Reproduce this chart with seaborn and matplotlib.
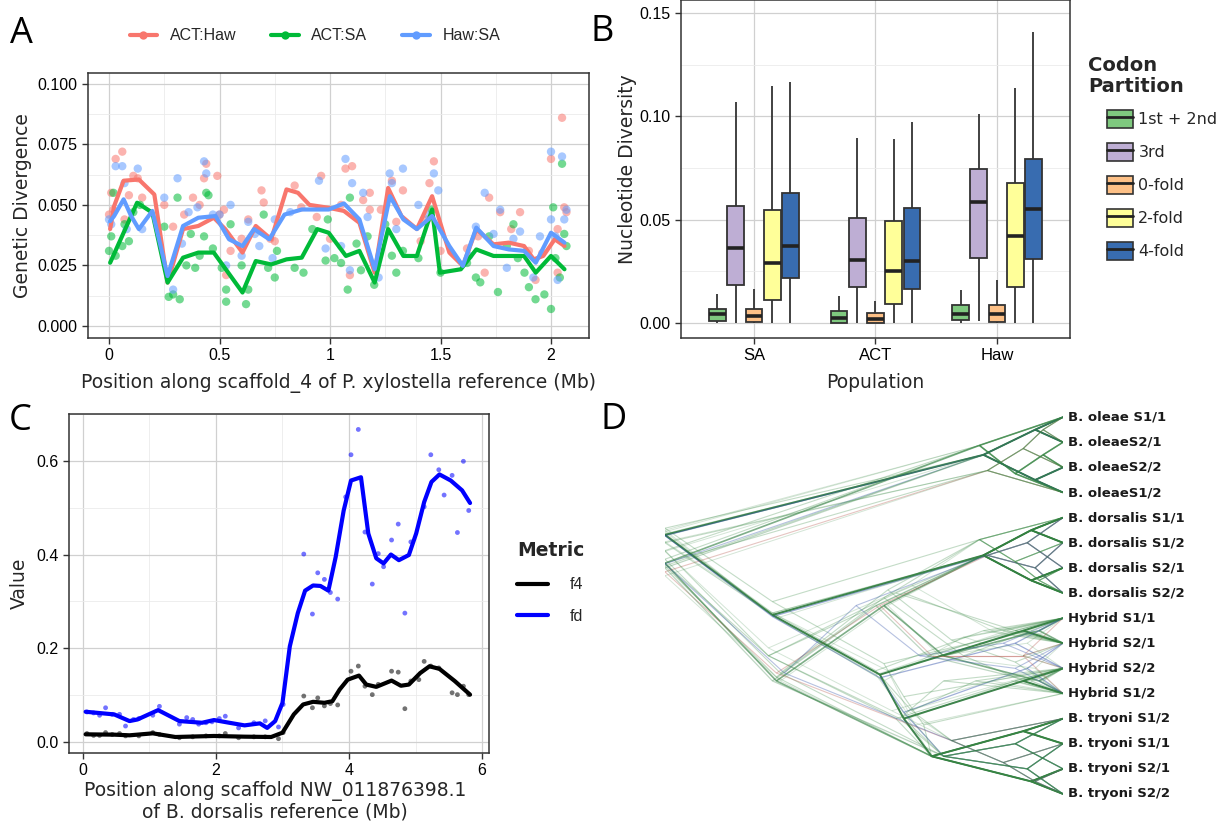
import numpy as np
import pandas as pd
import matplotlib.pyplot as plt
import seaborn as sns
from matplotlib.lines import Line2D
from matplotlib.patches import Patch
from matplotlib.legend_handler import HandlerTuple
from matplotlib.collections import LineCollection
from matplotlib.ticker import MultipleLocator

# ---------------- Panel A data: genetic divergence along scaffold_4 ----------------
pairs = ["ACT:Haw", "ACT:SA", "Haw:SA"]
pair_colors = {"ACT:Haw": "#F8766D", "ACT:SA": "#00BA38", "Haw:SA": "#619CFF"}

acthaw_pt_x = [0.00, 0.01, 0.02, 0.03, 0.06, 0.07, 0.09, 0.11, 0.13, 0.15, 0.25, 0.29, 0.34, 0.38,
               0.41, 0.43, 0.44, 0.49, 0.50, 0.52, 0.53, 0.55, 0.60, 0.63, 0.69, 0.70, 0.73, 0.75,
               0.84, 0.87, 0.94, 0.96, 1.00, 1.05, 1.07, 1.09, 1.10, 1.15, 1.18, 1.18, 1.23, 1.27,
               1.28, 1.30, 1.33, 1.41, 1.44, 1.45, 1.47, 1.50, 1.62, 1.67, 1.70, 1.72, 1.77, 1.82,
               1.86, 1.90, 1.93, 1.96, 2.00, 2.03, 2.03, 2.05, 2.06, 2.07]
acthaw_pt_y = [0.046, 0.055, 0.048, 0.069, 0.072, 0.044, 0.054, 0.062, 0.061, 0.053, 0.050, 0.041, 0.046, 0.053,
               0.050, 0.061, 0.067, 0.062, 0.046, 0.048, 0.021, 0.031, 0.036, 0.044, 0.056, 0.051, 0.036, 0.035,
               0.058, 0.049, 0.045, 0.062, 0.036, 0.050, 0.065, 0.021, 0.066, 0.052, 0.048, 0.055, 0.048, 0.053,
               0.060, 0.043, 0.056, 0.035, 0.044, 0.059, 0.068, 0.031, 0.032, 0.037, 0.022, 0.053, 0.047, 0.040,
               0.047, 0.031, 0.019, 0.030, 0.069, 0.022, 0.040, 0.086, 0.049, 0.047]

actsa_pt_x = [0.00, 0.01, 0.02, 0.03, 0.06, 0.07, 0.09, 0.11, 0.14, 0.25, 0.27, 0.29, 0.31, 0.32,
              0.35, 0.37, 0.39, 0.41, 0.43, 0.44, 0.45, 0.47, 0.51, 0.53, 0.53, 0.55, 0.60, 0.62,
              0.63, 0.70, 0.72, 0.75, 0.76, 0.84, 0.88, 0.92, 0.98, 0.99, 1.02, 1.05, 1.08, 1.09,
              1.12, 1.14, 1.17, 1.20, 1.25, 1.28, 1.30, 1.33, 1.40, 1.46, 1.50, 1.62, 1.66, 1.68,
              1.72, 1.76, 1.80, 1.83, 1.85, 1.88, 1.90, 1.93, 1.97, 2.00, 2.01, 2.02, 2.04, 2.05,
              2.06, 2.07]
actsa_pt_y = [0.031, 0.037, 0.055, 0.029, 0.033, 0.042, 0.035, 0.047, 0.050, 0.041, 0.012, 0.013, 0.053, 0.011,
              0.025, 0.038, 0.024, 0.029, 0.037, 0.055, 0.054, 0.032, 0.024, 0.015, 0.010, 0.042, 0.025, 0.009,
              0.015, 0.046, 0.024, 0.020, 0.031, 0.024, 0.022, 0.040, 0.027, 0.044, 0.028, 0.026, 0.015, 0.053,
              0.034, 0.023, 0.037, 0.017, 0.042, 0.029, 0.022, 0.031, 0.028, 0.048, 0.022, 0.026, 0.020, 0.018,
              0.037, 0.014, 0.033, 0.042, 0.028, 0.022, 0.016, 0.011, 0.013, 0.007, 0.049, 0.028, 0.020, 0.067,
              0.038, 0.033]

hawsa_pt_x = [0.00, 0.01, 0.03, 0.06, 0.07, 0.08, 0.13, 0.15, 0.25, 0.29, 0.31, 0.33, 0.36, 0.40,
              0.43, 0.44, 0.47, 0.50, 0.53, 0.55, 0.60, 0.63, 0.66, 0.68, 0.74, 0.75, 0.82, 0.95,
              0.98, 1.05, 1.07, 1.09, 1.10, 1.15, 1.17, 1.22, 1.27, 1.28, 1.30, 1.33, 1.40, 1.44,
              1.47, 1.49, 1.63, 1.66, 1.70, 1.74, 1.77, 1.80, 1.83, 1.86, 1.92, 1.95, 2.00, 2.00,
              2.02, 2.03, 2.05, 2.06, 2.07]
hawsa_pt_y = [0.044, 0.042, 0.066, 0.066, 0.059, 0.040, 0.065, 0.040, 0.053, 0.015, 0.061, 0.034, 0.047, 0.049,
              0.068, 0.063, 0.046, 0.046, 0.025, 0.050, 0.029, 0.043, 0.038, 0.033, 0.028, 0.044, 0.047, 0.060,
              0.032, 0.033, 0.069, 0.023, 0.059, 0.055, 0.045, 0.020, 0.063, 0.059, 0.040, 0.065, 0.050, 0.046,
              0.063, 0.056, 0.029, 0.041, 0.055, 0.038, 0.048, 0.024, 0.036, 0.039, 0.020, 0.037, 0.072, 0.044,
              0.037, 0.019, 0.070, 0.044, 0.048]

acthaw_ln_x = [0.005, 0.023, 0.066, 0.135, 0.205, 0.265, 0.335, 0.404, 0.474, 0.526, 0.604, 0.664,
               0.734, 0.803, 0.855, 0.907, 0.994, 1.063, 1.133, 1.202, 1.263, 1.323, 1.393, 1.462,
               1.540, 1.601, 1.662, 1.740, 1.809, 1.878, 1.922, 1.965, 2.017, 2.061]
acthaw_ln_y = [0.0400, 0.0495, 0.0600, 0.0605, 0.0543, 0.0179, 0.0400, 0.0413, 0.0447, 0.0400, 0.0303, 0.0413,
               0.0358, 0.0564, 0.0550, 0.0500, 0.0488, 0.0475, 0.0426, 0.0220, 0.0570, 0.0454, 0.0400, 0.0536,
               0.0303, 0.0248, 0.0400, 0.0337, 0.0344, 0.0330, 0.0275, 0.0289, 0.0358, 0.0330]

actsa_ln_x = [0.005, 0.066, 0.127, 0.196, 0.265, 0.335, 0.404, 0.474, 0.604, 0.664, 0.734, 0.803,
              0.872, 0.942, 0.994, 1.072, 1.133, 1.202, 1.263, 1.332, 1.393, 1.462, 1.497, 1.592,
              1.662, 1.740, 1.809, 1.878, 1.931, 2.000, 2.061]
actsa_ln_y = [0.0261, 0.0385, 0.0509, 0.0468, 0.0179, 0.0282, 0.0303, 0.0303, 0.0138, 0.0268, 0.0254, 0.0275,
              0.0282, 0.0400, 0.0385, 0.0289, 0.0310, 0.0179, 0.0400, 0.0289, 0.0289, 0.0481, 0.0220, 0.0234,
              0.0316, 0.0289, 0.0289, 0.0289, 0.0220, 0.0289, 0.0234]

hawsa_ln_x = [0.005, 0.023, 0.066, 0.100, 0.135, 0.196, 0.265, 0.335, 0.404, 0.482, 0.543, 0.604,
              0.656, 0.725, 0.794, 0.872, 0.994, 1.063, 1.133, 1.202, 1.271, 1.332, 1.393, 1.462,
              1.540, 1.601, 1.662, 1.740, 1.809, 1.878, 1.931, 2.000, 2.061]
hawsa_ln_y = [0.0433, 0.0454, 0.0523, 0.0454, 0.0400, 0.0475, 0.0206, 0.0413, 0.0447, 0.0454, 0.0358, 0.0330,
              0.0400, 0.0358, 0.0460, 0.0481, 0.0481, 0.0506, 0.0440, 0.0234, 0.0536, 0.0440, 0.0400, 0.0454,
              0.0330, 0.0248, 0.0406, 0.0330, 0.0316, 0.0310, 0.0261, 0.0385, 0.0344]

# ---------------- Panel B data: nucleotide diversity box stats ----------------
populations = ["SA", "ACT", "Haw"]
partitions = ["1st + 2nd", "3rd", "0-fold", "2-fold", "4-fold"]
partition_colors = ["#7FC97F", "#BEAED4", "#FDC086", "#FFFF99", "#386CB0"]
# per population, per partition: [min, q1, median, q3, max]
box_SA = [[0.0, 0.0010, 0.0042, 0.0066, 0.0140],
          [0.0, 0.0182, 0.0365, 0.0565, 0.1067],
          [0.0, 0.0005, 0.0035, 0.0069, 0.0166],
          [0.0, 0.0113, 0.0289, 0.0546, 0.1146],
          [0.0, 0.0218, 0.0370, 0.0627, 0.1167]]
box_ACT = [[0.0, 0.0000, 0.0026, 0.0057, 0.0129],
           [0.0, 0.0173, 0.0304, 0.0509, 0.0896],
           [0.0, 0.0000, 0.0021, 0.0048, 0.0107],
           [0.0, 0.0092, 0.0249, 0.0492, 0.0888],
           [0.0, 0.0166, 0.0300, 0.0555, 0.0972]]
box_Haw = [[0.0, 0.0016, 0.0042, 0.0087, 0.0160],
           [0.0011, 0.0313, 0.0583, 0.0746, 0.1011],
           [0.0, 0.0003, 0.0042, 0.0089, 0.0207],
           [0.0, 0.0173, 0.0420, 0.0675, 0.1137],
           [0.0, 0.0308, 0.0551, 0.0793, 0.1408]]

# ---------------- Panel C data: f4 / fd along NW_011876398.1 ----------------
fd_pt_x = [0.06, 0.16, 0.25, 0.34, 0.44, 0.55, 0.64, 0.76, 0.84, 1.05, 1.15, 1.45, 1.56, 1.65, 1.74,
           1.85, 1.94, 2.05, 2.14, 2.34, 2.57, 2.74, 2.94, 3.01, 3.32, 3.45, 3.53, 3.63, 3.72, 3.83,
           3.95, 4.03, 4.14, 4.24, 4.35, 4.44, 4.52, 4.64, 4.74, 4.84, 4.93, 5.13, 5.23, 5.35, 5.43,
           5.55, 5.63, 5.72, 5.80]
fd_pt_y = [0.064, 0.062, 0.057, 0.073, 0.059, 0.059, 0.034, 0.048, 0.050, 0.057, 0.076, 0.038, 0.052, 0.048, 0.038,
           0.041, 0.043, 0.050, 0.055, 0.030, 0.041, 0.045, 0.032, 0.080, 0.401, 0.273, 0.361, 0.347, 0.319, 0.305,
           0.523, 0.613, 0.667, 0.448, 0.337, 0.402, 0.374, 0.431, 0.465, 0.275, 0.427, 0.502, 0.613, 0.581, 0.527,
           0.569, 0.447, 0.599, 0.494]
f4_pt_x = [0.06, 0.16, 0.25, 0.34, 0.44, 0.55, 0.64, 0.84, 1.05, 1.15, 1.45, 1.65, 1.85, 2.05, 2.14,
           2.34, 2.57, 2.74, 2.94, 3.01, 3.32, 3.45, 3.53, 3.63, 3.72, 3.83, 4.03, 4.14, 4.24, 4.35,
           4.44, 4.64, 4.74, 4.84, 4.93, 5.05, 5.13, 5.23, 5.35, 5.55, 5.63, 5.72, 5.80]
f4_pt_y = [0.018, 0.014, 0.014, 0.020, 0.016, 0.018, 0.013, 0.013, 0.020, 0.016, 0.009, 0.011, 0.013, 0.013, 0.018,
           0.009, 0.011, 0.011, 0.007, 0.020, 0.098, 0.073, 0.094, 0.077, 0.082, 0.079, 0.151, 0.162, 0.119, 0.101,
           0.123, 0.151, 0.149, 0.071, 0.130, 0.133, 0.172, 0.162, 0.158, 0.105, 0.101, 0.119, 0.101]

fd_ln_x = [0.04, 0.47, 0.70, 0.82, 1.13, 1.45, 1.79, 1.97, 2.20, 2.43, 2.66, 2.77, 2.89, 3.00, 3.11,
           3.23, 3.34, 3.46, 3.57, 3.69, 3.80, 3.92, 4.03, 4.18, 4.29, 4.41, 4.52, 4.63, 4.75, 4.90,
           5.01, 5.13, 5.24, 5.36, 5.53, 5.70, 5.82]
fd_ln_y = [0.0645, 0.0588, 0.0446, 0.048, 0.068, 0.0446, 0.041, 0.0468, 0.041, 0.0354, 0.0397, 0.030, 0.0446, 0.0836,
           0.204, 0.275, 0.323, 0.334, 0.333, 0.323, 0.395, 0.494, 0.558, 0.565, 0.445, 0.392, 0.381, 0.400,
           0.388, 0.399, 0.445, 0.512, 0.555, 0.571, 0.558, 0.537, 0.510]
f4_ln_x = [0.04, 0.47, 0.70, 1.05, 1.39, 1.97, 2.43, 2.83, 3.00, 3.17, 3.31, 3.46, 3.63, 3.75, 3.86,
           3.98, 4.15, 4.26, 4.41, 4.64, 4.78, 4.90, 5.07, 5.21, 5.36, 5.59, 5.82]
f4_ln_y = [0.0163, 0.0156, 0.0142, 0.0184, 0.0106, 0.0128, 0.0113, 0.0106, 0.0198, 0.0588, 0.080, 0.0857, 0.0836,
           0.087, 0.112, 0.133, 0.1417, 0.1225, 0.1176, 0.131, 0.120, 0.1225, 0.147, 0.1615, 0.156, 0.130, 0.101]

# ---------------- Panel D data: DensiTree of gene trees ----------------
taxa = ["B. oleae S1/1", "B. oleaeS2/1", "B. oleaeS2/2", "B. oleaeS1/2",
        "B. dorsalis S1/1", "B. dorsalis S1/2", "B. dorsalis S2/1", "B. dorsalis S2/2",
        "Hybrid S1/1", "Hybrid S2/1", "Hybrid S2/2", "Hybrid S1/2",
        "B. tryoni S1/2", "B. tryoni S1/1", "B. tryoni S2/1", "B. tryoni S2/2"]
# clades as (node age, [children]); tips are indices into taxa
OLE_A = (0.20, [(0.07, [0, 1]), (0.07, [2, 3])])
OLE_B = (0.21, [0, (0.12, [(0.05, [1, 2]), 3])])
OLE_C = (0.19, [(0.10, [(0.05, [0, 1]), 2]), 3])
DOR_A = (0.20, [(0.08, [4, 5]), (0.08, [6, 7])])
DOR_B = (0.19, [(0.09, [4, 6]), (0.07, [5, 7])])
DOR_C = (0.21, [4, (0.12, [5, (0.06, [6, 7])])])
TRY_A = (0.33, [(0.10, [12, 13]), (0.08, [14, 15])])
TRY_B = (0.30, [(0.12, [12, 14]), (0.09, [13, 15])])
TRY_C = (0.28, [12, (0.15, [13, (0.07, [14, 15])])])

trees = [
    (1.0, [OLE_A, (0.73, [DOR_A, (0.46, [(0.10, [8, 9]), (0.40, [(0.10, [10, 11]), TRY_A])])])]),
    (1.0, [OLE_B, (0.72, [(0.45, [DOR_A, (0.30, [(0.06, [8, 9]), (0.06, [10, 11])])]), TRY_A])]),
    (1.0, [OLE_A, (0.73, [DOR_B, (0.46, [(0.12, [8, 10]), (0.40, [(0.09, [9, 11]), TRY_B])])])]),
    (1.0, [OLE_C, (0.74, [(0.40, [DOR_A, (0.15, [8, 9])]), (0.42, [(0.12, [10, 11]), TRY_A])])]),
    (1.0, [OLE_B, (0.71, [(0.44, [DOR_C, (0.28, [8, (0.12, [9, (0.05, [10, 11])])])]), TRY_B])]),
    (1.0, [OLE_A, (0.73, [DOR_A, (0.47, [(0.20, [8, 9]), (0.38, [(0.22, [10, 11]), TRY_C])])])]),
    (1.0, [OLE_C, (0.72, [(0.46, [DOR_B, (0.33, [(0.10, [8, 11]), (0.10, [9, 10])])]), TRY_C])]),
    (1.0, [OLE_A, (0.73, [DOR_C, (0.45, [(0.10, [8, 9]), (0.40, [10, (0.35, [11, TRY_A])])])])]),
    (1.0, [OLE_B, (0.74, [(0.42, [DOR_A, (0.12, [8, 9])]), (0.41, [(0.30, [10, 11]), TRY_B])])]),
    (1.0, [OLE_A, (0.70, [(0.52, [DOR_B, (0.36, [(0.15, [8, 10]), (0.12, [9, 11])])]), TRY_C])]),
    (1.0, [OLE_C, (0.73, [DOR_A, (0.46, [(0.10, [8, 9]), (0.40, [(0.10, [10, 11]), TRY_B])])])]),
    (1.0, [OLE_A, (0.72, [(0.45, [DOR_C, (0.25, [(0.08, [8, 9]), (0.10, [10, 11])])]), TRY_A])]),
    (1.0, [OLE_B, (0.73, [DOR_B, (0.47, [(0.14, [8, 9]), (0.39, [(0.12, [10, 11]), TRY_A])])])]),
    (1.0, [OLE_C, (0.71, [(0.44, [DOR_A, (0.31, [(0.09, [8, 10]), (0.07, [9, 11])])]), TRY_A])]),
    (1.0, [OLE_A, (0.74, [(0.38, [DOR_C, (0.18, [8, 9])]), (0.43, [(0.18, [10, 11]), TRY_C])])]),
    (1.0, [OLE_B, (0.72, [DOR_A, (0.45, [(0.25, [8, (0.10, [9, 10])]), (0.37, [11, TRY_B])])])]),
    (1.0, [OLE_A, (0.73, [(0.47, [DOR_A, (0.34, [(0.12, [8, 9]), (0.08, [10, 11])])]), TRY_B])]),
    (1.0, [OLE_C, (0.73, [DOR_B, (0.44, [(0.09, [8, 9]), (0.39, [(0.13, [10, 11]), TRY_C])])])]),
]
tree_colors = ["#1f6e30", "#2a7a3a", "#2f4fa8", "#3a8a45", "#3a8a45", "#3a8a45",
               "#b8584f", "#3a8a45", "#3a8a45", "#2f4fa8", "#3a8a45", "#3a8a45",
               "#3a8a45", "#3a8a45", "#3a8a45", "#3a8a45", "#2a7a3a", "#3a8a45"]
tree_alpha = [0.85, 0.6, 0.45, 0.3, 0.3, 0.3, 0.35, 0.3, 0.3, 0.35, 0.3, 0.3,
              0.22, 0.22, 0.22, 0.22, 0.3, 0.22]
tree_lw = [1.4, 1.2, 0.9, 0.8, 0.8, 0.8, 0.8, 0.8, 0.8, 0.8, 0.8, 0.8,
           0.7, 0.7, 0.7, 0.7, 0.9, 0.7]

# ---------------- style ----------------
sns.set_style("white")
plt.rcParams["font.family"] = ["DejaVu Sans"]
BORDER = "#333333"
MAJOR = "#d0d0d0"
MINOR = "#ebebeb"
TITLE_FS = 13.5

fig = plt.figure(figsize=(12.21, 8.25), dpi=100)
axA = fig.add_axes([0.0721, 0.5903, 0.4103, 0.3212])
axB = fig.add_axes([0.5577, 0.5903, 0.3186, 0.4097])
axC = fig.add_axes([0.0565, 0.0873, 0.3440, 0.4109])
axD = fig.add_axes([0.5446, 0.0230, 0.3260, 0.4860])


def style_axis(ax):
    for s in ax.spines.values():
        s.set_visible(True)
        s.set_color(BORDER)
        s.set_linewidth(1.1)
    ax.set_facecolor("white")
    ax.grid(True, which="major", color=MAJOR, lw=0.9)
    ax.grid(True, which="minor", color=MINOR, lw=0.6)
    ax.set_axisbelow(True)
    ax.tick_params(which="major", length=4, width=1, color=BORDER, labelsize=11.5,
                   labelcolor="black", direction="out", bottom=True, left=True)
    ax.tick_params(which="minor", length=0)
    for lab in ax.get_xticklabels() + ax.get_yticklabels():
        lab.set_fontfamily("Liberation Sans")


# ---------------- Panel A ----------------
ptsA = pd.concat([
    pd.DataFrame({"x": acthaw_pt_x, "y": acthaw_pt_y, "pair": "ACT:Haw"}),
    pd.DataFrame({"x": actsa_pt_x, "y": actsa_pt_y, "pair": "ACT:SA"}),
    pd.DataFrame({"x": hawsa_pt_x, "y": hawsa_pt_y, "pair": "Haw:SA"}),
])
lnA = pd.concat([
    pd.DataFrame({"x": acthaw_ln_x, "y": acthaw_ln_y, "pair": "ACT:Haw"}),
    pd.DataFrame({"x": actsa_ln_x, "y": actsa_ln_y, "pair": "ACT:SA"}),
    pd.DataFrame({"x": hawsa_ln_x, "y": hawsa_ln_y, "pair": "Haw:SA"}),
])
sns.scatterplot(data=ptsA, x="x", y="y", hue="pair", hue_order=pairs, palette=pair_colors,
                alpha=0.55, s=36, edgecolor="none", legend=False, ax=axA, zorder=2)
sns.lineplot(data=lnA, x="x", y="y", hue="pair", hue_order=pairs, palette=pair_colors,
             estimator=None, lw=3, legend=False, ax=axA, zorder=3)
axA.set_xlim(-0.095, 2.172)
axA.set_ylim(-0.005, 0.1045)
axA.set_xticks([0, 0.5, 1, 1.5, 2], ["0", "0.5", "1", "1.5", "2"])
axA.set_yticks([0, 0.025, 0.05, 0.075, 0.1], ["0.000", "0.025", "0.050", "0.075", "0.100"])
axA.xaxis.set_minor_locator(MultipleLocator(0.25))
axA.yaxis.set_minor_locator(MultipleLocator(0.0125))
axA.set_xlabel("Position along scaffold_4 of P. xylostella reference (Mb)", fontsize=TITLE_FS)
axA.set_ylabel("Genetic Divergence", fontsize=TITLE_FS)
axA.xaxis.set_label_coords(0.5, -0.132)
axA.yaxis.set_label_coords(-0.112, 0.5)
style_axis(axA)

handlesA = [Line2D([], [], color=pair_colors[p], lw=3, marker="o", markersize=6,
                   markerfacecolor=pair_colors[p], markeredgecolor="none") for p in pairs]
fig.legend(handlesA, pairs, loc="center", bbox_to_anchor=(315 / 1221, 1 - 36 / 825),
           ncol=3, frameon=False, handlelength=1.7, handletextpad=0.8, columnspacing=2.2,
           prop={"family": "Liberation Sans", "size": 11.5})

# ---------------- Panel B ----------------
rows = []
for pop, stats in zip(populations, [box_SA, box_ACT, box_Haw]):
    for part, vals in zip(partitions, stats):
        for v in vals:
            rows.append({"Population": pop, "Partition": part, "value": v})
dfB = pd.DataFrame(rows)
sns.boxplot(data=dfB, x="Population", y="value", hue="Partition", order=populations,
            hue_order=partitions, palette=dict(zip(partitions, partition_colors)), saturation=1,
            width=0.75, gap=0.08, whis=(0, 100), showcaps=False, showfliers=False,
            linewidth=1.3, linecolor="#333333",
            medianprops={"color": "#222222", "linewidth": 2.6},
            legend=False, ax=axB)
axB.set_xlim(-0.6, 2.6)
axB.set_ylim(-0.0073, 0.1563)
axB.set_yticks([0, 0.05, 0.1, 0.15], ["0.00", "0.05", "0.10", "0.15"])
axB.yaxis.set_minor_locator(MultipleLocator(0.025))
axB.set_xlabel("Population", fontsize=TITLE_FS)
axB.set_ylabel("Nucleotide Diversity", fontsize=TITLE_FS)
axB.xaxis.set_label_coords(0.5, -0.105)
axB.yaxis.set_label_coords(-0.114, 0.5)
style_axis(axB)
axB.tick_params(axis="x", labelsize=12)

handlesB = [(Patch(facecolor=c, edgecolor="#333333", lw=1.2),
             Line2D([], [], color="#222222", lw=2)) for c in partition_colors]
fig.legend(handlesB, partitions, loc="upper left", bbox_to_anchor=(1096 / 1221, 1 - 99 / 825),
           frameon=False, handler_map={tuple: HandlerTuple(ndivide=1)},
           handlelength=1.6, handleheight=1.3, handletextpad=0.35, labelspacing=0.98,
           borderpad=0.2, prop={"size": 11.5})
fig.text(1088 / 1221, 1 - 56 / 825, "Codon\nPartition", fontsize=14, fontweight="bold",
         va="top", ha="left", linespacing=1.15)

# ---------------- Panel C ----------------
ptsC = pd.concat([
    pd.DataFrame({"x": f4_pt_x, "y": f4_pt_y, "Metric": "f4"}),
    pd.DataFrame({"x": fd_pt_x, "y": fd_pt_y, "Metric": "fd"}),
])
lnC = pd.concat([
    pd.DataFrame({"x": f4_ln_x, "y": f4_ln_y, "Metric": "f4"}),
    pd.DataFrame({"x": fd_ln_x, "y": fd_ln_y, "Metric": "fd"}),
])
metric_colors = {"f4": "#000000", "fd": "#0000FF"}
sns.scatterplot(data=ptsC, x="x", y="y", hue="Metric", palette=metric_colors, alpha=0.55,
                s=12, edgecolor="none", legend=False, ax=axC, zorder=2)
sns.lineplot(data=lnC, x="x", y="y", hue="Metric", palette=metric_colors, estimator=None,
             lw=3, legend=False, ax=axC, zorder=3)
axC.set_xlim(-0.21, 6.105)
axC.set_ylim(-0.0235, 0.70)
axC.set_xticks([0, 2, 4, 6], ["0", "2", "4", "6"])
axC.set_yticks([0, 0.2, 0.4, 0.6], ["0.0", "0.2", "0.4", "0.6"])
axC.xaxis.set_minor_locator(MultipleLocator(1))
axC.yaxis.set_minor_locator(MultipleLocator(0.1))
axC.set_xlabel("Position along scaffold NW_011876398.1\nof B. dorsalis reference (Mb)",
               fontsize=TITLE_FS, linespacing=1.1)
axC.set_ylabel("Value", fontsize=TITLE_FS)
axC.xaxis.set_label_coords(0.49, -0.082)
axC.yaxis.set_label_coords(-0.096, 0.5)
style_axis(axC)

handlesC = [Line2D([], [], color=metric_colors[m], lw=3) for m in ["f4", "fd"]]
fig.legend(handlesC, ["f4", "fd"], loc="upper left", bbox_to_anchor=(503 / 1221, 1 - 527 / 825),
           frameon=False, title="Metric", alignment="left", handlelength=1.9,
           handletextpad=1.4, labelspacing=1.05,
           prop={"family": "Liberation Sans", "size": 11.5},
           title_fontproperties={"weight": "bold", "size": 13.5})


# ---------------- Panel D ----------------
def tree_segments(node, segs):
    if isinstance(node, int):
        return 0.0, float(node)
    age, kids = node
    child_pos = [tree_segments(k, segs) for k in kids]
    y = float(np.mean([cy for _, cy in child_pos]))
    for ca, cy in child_pos:
        segs.append([(1 - age, y), (1 - ca, cy)])
    return age, y


for tree, col, a, lw in zip(trees, tree_colors, tree_alpha, tree_lw):
    segs = []
    tree_segments(tree, segs)
    axD.add_collection(LineCollection(segs, colors=col, alpha=a, linewidths=lw))
axD.set_xlim(0, 1)
axD.set_ylim(15.48, -0.48)
axD.axis("off")
for i, name in enumerate(taxa):
    axD.text(1.013, i, name, va="center", ha="left", fontsize=9.5, fontweight="bold",
             color="#1a1a1a", clip_on=False)

# ---------------- panel letters ----------------
for letter, x, y in [("A", 10, 16), ("B", 591, 14), ("C", 9, 403), ("D", 600, 402)]:
    fig.text(x / 1221, 1 - y / 825, letter, fontsize=26, va="top", ha="left",
             family="Open Sans", color="black")

fig.savefig("out.png", dpi=100)
